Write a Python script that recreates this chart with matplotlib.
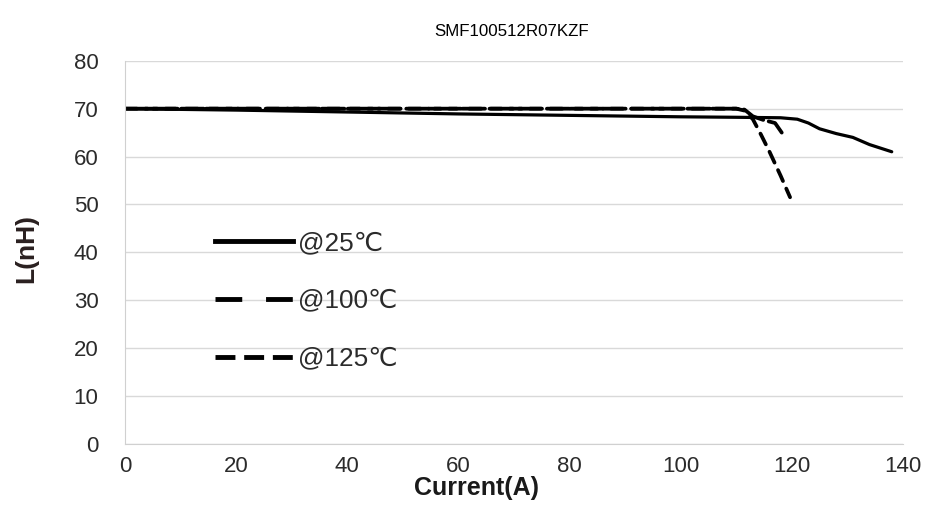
import matplotlib.pyplot as plt
from matplotlib.lines import Line2D

plt.rcParams['font.family'] = ['Liberation Sans', 'DejaVu Sans']

title = "SMF100512R07KZF"
labels = ["@25℃", "@100℃", "@125℃"]

current_25 = [0, 20, 40, 60, 80, 100, 110, 118, 121, 123, 125, 128, 131, 134, 138]
L_25 = [70, 69.7, 69.3, 68.9, 68.6, 68.3, 68.2, 68.1, 67.8, 67, 65.8, 64.8, 64, 62.5, 61]

current_100 = [0, 20, 40, 60, 80, 100, 110, 111.5, 113, 115, 117, 118.2]
L_100 = [70, 70, 70, 70, 70, 70, 70, 69.8, 68.4, 67.6, 67, 65]

current_125 = [0, 20, 40, 60, 80, 100, 110, 111.5, 113, 114.5, 116, 118, 119.7]
L_125 = [70, 70, 70, 70, 70, 70, 70, 69.6, 67.8, 64.5, 61, 56, 51.5]

xticks = [0, 20, 40, 60, 80, 100, 120, 140]
yticks = [0, 10, 20, 30, 40, 50, 60, 70, 80]

fig = plt.figure(figsize=(9.26, 5.24), dpi=100)
ax = fig.add_axes([0.135, 0.153, 0.84, 0.731])

ax.plot(current_25, L_25, color='black', lw=2.3, solid_capstyle='round')
ax.plot(current_100, L_100, color='black', lw=2.7, dashes=(6, 1.5), dash_capstyle='round')
ax.plot(current_125, L_125, color='black', lw=2.7, dashes=(3.2, 2.2), dash_capstyle='round')

ax.set_xlim(0, 140)
ax.set_ylim(0, 80)
ax.set_xticks(xticks)
ax.set_yticks(yticks)
ax.tick_params(length=0, labelsize=16, labelcolor='#2b2b2b')
ax.tick_params(axis='x', pad=9)
ax.tick_params(axis='y', pad=19)
ax.grid(axis='y', color='#d9d9d9', lw=1)
ax.set_axisbelow(True)
for s in ['top', 'right']:
    ax.spines[s].set_visible(False)
ax.spines['left'].set_color('#d0d0d0')
ax.spines['bottom'].set_color('#d0d0d0')

ax.set_xlabel("Current(A)", fontsize=18, fontweight='bold', color='#1a1a1a')
ax.xaxis.set_label_coords(0.452, -0.085)
ax.set_ylabel("L(nH)", fontsize=19, fontweight='bold', color='#2a2020')
ax.yaxis.set_label_coords(-0.112, 0.51)

fig.text(0.553, 0.94, title, fontsize=12.2, ha='center', va='center')

handles = [
    Line2D([], [], color='black', lw=3.5),
    Line2D([], [], color='black', lw=3.5, dashes=(5.5, 4.9)),
    Line2D([], [], color='black', lw=3.5, dashes=(4.1, 1.8)),
]
ax.legend(handles, labels, loc='upper left', bbox_to_anchor=(0.1157, 0.556), frameon=False,
          fontsize=18.8, handlelength=3.0, handletextpad=0.16, labelspacing=1.3,
          borderpad=0, borderaxespad=0, labelcolor='#2b2b2b')

fig.savefig("out.png", dpi=100)
